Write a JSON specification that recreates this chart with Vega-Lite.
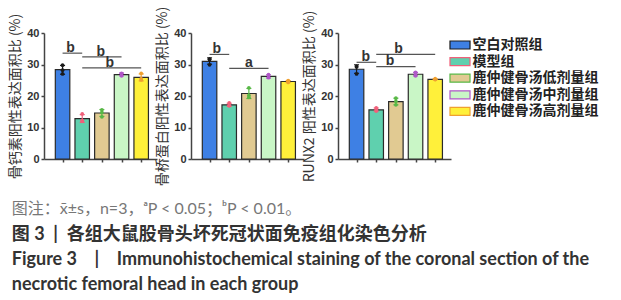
{
  "$schema": "https://vega.github.io/schema/vega-lite/v6.json",
  "background": "white",
  "padding": {"left": 8, "top": 6, "right": 4, "bottom": 4},
  "config": {
    "view": {"stroke": null},
    "axis": {"domainColor": "#444", "domainWidth": 1.5, "tickColor": "#444", "tickWidth": 1.5, "tickSize": 3, "labelFont": "Liberation Sans", "labelFontWeight": "bold", "labelFontSize": 11, "labelColor": "#333", "labelPadding": 2, "titleFont": "Noto Sans CJK SC", "titleFontSize": 14, "titleFontWeight": "normal", "titleColor": "#333", "titlePadding": 4, "grid": false}
  },
  "title": {
    "text": "图注：x̄±s，n=3，ᵃP < 0.05；ᵇP < 0.01。",
    "subtitle": ["图 3 \u00a0|\u00a0 各组大鼠股骨头坏死冠状面免疫组化染色分析", "Figure 3 \u00a0\u00a0 | \u00a0\u00a0 Immunohistochemical staining of the coronal section of the", "necrotic femoral head in each group"],
    "orient": "bottom", "anchor": "start", "frame": "bounds", "offset": 15, "dx": 3,
    "font": "Lato, 'Noto Sans CJK SC'", "fontSize": 16, "fontWeight": "normal", "color": "#777",
    "subtitleFont": "Lato, 'Noto Sans CJK SC'", "subtitleFontSize": 18, "subtitleFontWeight": "bold", "subtitleColor": "#333", "subtitleLineHeight": 25, "subtitlePadding": 9
  },
  "datasets": {
    "bars": [
      {"panel": 1, "i": 1, "group": "空白对照组", "mean": 28.35, "lo": 26.9, "hi": 29.7},
      {"panel": 1, "i": 2, "group": "模型组", "mean": 12.8, "lo": 11.6, "hi": 14.1},
      {"panel": 1, "i": 3, "group": "鹿仲健骨汤低剂量组", "mean": 14.6, "lo": 13.5, "hi": 15.7},
      {"panel": 1, "i": 4, "group": "鹿仲健骨汤中剂量组", "mean": 26.8, "lo": 26.4, "hi": 27.3},
      {"panel": 1, "i": 5, "group": "鹿仲健骨汤高剂量组", "mean": 25.9, "lo": 24.8, "hi": 27.0},
      {"panel": 2, "i": 1, "group": "空白对照组", "mean": 31.0, "lo": 30.1, "hi": 32.1},
      {"panel": 2, "i": 2, "group": "模型组", "mean": 17.2, "lo": 16.7, "hi": 17.7},
      {"panel": 2, "i": 3, "group": "鹿仲健骨汤低剂量组", "mean": 20.8, "lo": 19.2, "hi": 22.4},
      {"panel": 2, "i": 4, "group": "鹿仲健骨汤中剂量组", "mean": 26.2, "lo": 25.7, "hi": 26.7},
      {"panel": 2, "i": 5, "group": "鹿仲健骨汤高剂量组", "mean": 24.6, "lo": 24.3, "hi": 24.9},
      {"panel": 3, "i": 1, "group": "空白对照组", "mean": 28.5, "lo": 27.2, "hi": 29.9},
      {"panel": 3, "i": 2, "group": "模型组", "mean": 15.6, "lo": 15.2, "hi": 16.2},
      {"panel": 3, "i": 3, "group": "鹿仲健骨汤低剂量组", "mean": 18.2, "lo": 17.2, "hi": 19.3},
      {"panel": 3, "i": 4, "group": "鹿仲健骨汤中剂量组", "mean": 26.9, "lo": 26.4, "hi": 27.5},
      {"panel": 3, "i": 5, "group": "鹿仲健骨汤高剂量组", "mean": 25.3, "lo": 25.2, "hi": 25.5}
    ],
    "points": [
      {"panel": 1, "i": 1, "group": "空白对照组", "rep": 1, "value": 28.2},
      {"panel": 1, "i": 1, "group": "空白对照组", "rep": 2, "value": 29.8},
      {"panel": 1, "i": 1, "group": "空白对照组", "rep": 3, "value": 27.0},
      {"panel": 1, "i": 2, "group": "模型组", "rep": 1, "value": 12.2},
      {"panel": 1, "i": 2, "group": "模型组", "rep": 2, "value": 14.3},
      {"panel": 1, "i": 2, "group": "模型组", "rep": 3, "value": 12.0},
      {"panel": 1, "i": 3, "group": "鹿仲健骨汤低剂量组", "rep": 1, "value": 15.6},
      {"panel": 1, "i": 3, "group": "鹿仲健骨汤低剂量组", "rep": 2, "value": 14.8},
      {"panel": 1, "i": 3, "group": "鹿仲健骨汤低剂量组", "rep": 3, "value": 13.4},
      {"panel": 1, "i": 4, "group": "鹿仲健骨汤中剂量组", "rep": 1, "value": 27.0},
      {"panel": 1, "i": 4, "group": "鹿仲健骨汤中剂量组", "rep": 2, "value": 27.2},
      {"panel": 1, "i": 4, "group": "鹿仲健骨汤中剂量组", "rep": 3, "value": 26.4},
      {"panel": 1, "i": 5, "group": "鹿仲健骨汤高剂量组", "rep": 1, "value": 25.4},
      {"panel": 1, "i": 5, "group": "鹿仲健骨汤高剂量组", "rep": 2, "value": 27.2},
      {"panel": 1, "i": 5, "group": "鹿仲健骨汤高剂量组", "rep": 3, "value": 25.1},
      {"panel": 2, "i": 1, "group": "空白对照组", "rep": 1, "value": 31.6},
      {"panel": 2, "i": 1, "group": "空白对照组", "rep": 2, "value": 29.9},
      {"panel": 2, "i": 1, "group": "空白对照组", "rep": 3, "value": 31.7},
      {"panel": 2, "i": 2, "group": "模型组", "rep": 1, "value": 17.0},
      {"panel": 2, "i": 2, "group": "模型组", "rep": 2, "value": 17.8},
      {"panel": 2, "i": 2, "group": "模型组", "rep": 3, "value": 16.9},
      {"panel": 2, "i": 3, "group": "鹿仲健骨汤低剂量组", "rep": 1, "value": 20.2},
      {"panel": 2, "i": 3, "group": "鹿仲健骨汤低剂量组", "rep": 2, "value": 22.6},
      {"panel": 2, "i": 3, "group": "鹿仲健骨汤低剂量组", "rep": 3, "value": 19.6},
      {"panel": 2, "i": 4, "group": "鹿仲健骨汤中剂量组", "rep": 1, "value": 26.0},
      {"panel": 2, "i": 4, "group": "鹿仲健骨汤中剂量组", "rep": 2, "value": 26.8},
      {"panel": 2, "i": 4, "group": "鹿仲健骨汤中剂量组", "rep": 3, "value": 25.8},
      {"panel": 2, "i": 5, "group": "鹿仲健骨汤高剂量组", "rep": 1, "value": 24.7},
      {"panel": 2, "i": 5, "group": "鹿仲健骨汤高剂量组", "rep": 2, "value": 24.9},
      {"panel": 2, "i": 5, "group": "鹿仲健骨汤高剂量组", "rep": 3, "value": 24.3},
      {"panel": 3, "i": 1, "group": "空白对照组", "rep": 1, "value": 29.3},
      {"panel": 3, "i": 1, "group": "空白对照组", "rep": 2, "value": 27.0},
      {"panel": 3, "i": 1, "group": "空白对照组", "rep": 3, "value": 29.3},
      {"panel": 3, "i": 2, "group": "模型组", "rep": 1, "value": 15.6},
      {"panel": 3, "i": 2, "group": "模型组", "rep": 2, "value": 16.2},
      {"panel": 3, "i": 2, "group": "模型组", "rep": 3, "value": 15.2},
      {"panel": 3, "i": 3, "group": "鹿仲健骨汤低剂量组", "rep": 1, "value": 19.3},
      {"panel": 3, "i": 3, "group": "鹿仲健骨汤低剂量组", "rep": 2, "value": 18.3},
      {"panel": 3, "i": 3, "group": "鹿仲健骨汤低剂量组", "rep": 3, "value": 17.2},
      {"panel": 3, "i": 4, "group": "鹿仲健骨汤中剂量组", "rep": 1, "value": 27.0},
      {"panel": 3, "i": 4, "group": "鹿仲健骨汤中剂量组", "rep": 2, "value": 27.5},
      {"panel": 3, "i": 4, "group": "鹿仲健骨汤中剂量组", "rep": 3, "value": 26.4},
      {"panel": 3, "i": 5, "group": "鹿仲健骨汤高剂量组", "rep": 1, "value": 25.3},
      {"panel": 3, "i": 5, "group": "鹿仲健骨汤高剂量组", "rep": 2, "value": 25.5},
      {"panel": 3, "i": 5, "group": "鹿仲健骨汤高剂量组", "rep": 3, "value": 25.2}
    ],
    "sig": [
      {"panel": 1, "from": 1, "to": 2, "y": 33.6, "lx": 1.4, "ly": 35.3, "label": "b"},
      {"panel": 1, "from": 2, "to": 4, "y": 32.4, "lx": 2.95, "ly": 34.1, "label": "b"},
      {"panel": 1, "from": 2, "to": 5, "y": 28.9, "lx": 3.4, "ly": 30.6, "label": "b"},
      {"panel": 2, "from": 1, "to": 2, "y": 33.2, "lx": 1.37, "ly": 34.9, "label": "b"},
      {"panel": 2, "from": 2, "to": 4, "y": 28.75, "lx": 3.0, "ly": 30.4, "label": "a"},
      {"panel": 3, "from": 1, "to": 2, "y": 30.7, "lx": 1.47, "ly": 32.4, "label": "b"},
      {"panel": 3, "from": 2, "to": 5, "y": 33.2, "lx": 3.13, "ly": 34.9, "label": "b"},
      {"panel": 3, "from": 2, "to": 4, "y": 29.3, "lx": 2.7, "ly": 31.0, "label": "b"}
    ]
  },
  "hconcat": [
    {
      "width": 113, "height": 126,
      "layer": [
        {"data": {"name": "bars"}, "transform": [{"filter": "datum.panel === 1"}],
         "mark": {"type": "bar", "width": 14.5, "stroke": "#2a2a2a", "strokeWidth": 1.2},
         "encoding": {
           "x": {"field": "i", "type": "quantitative", "scale": {"domain": [0.31, 5.55], "nice": false, "zero": false}, "axis": {"values": [1, 2, 3, 4, 5], "labels": false, "title": null}},
           "y": {"field": "mean", "type": "quantitative", "scale": {"domain": [0, 40], "nice": false}, "axis": {"values": [0, 10, 20, 30, 40], "title": "骨钙素阳性表达面积比 (%)"}},
           "fill": {"field": "group", "type": "nominal", "scale": {"domain": ["空白对照组", "模型组", "鹿仲健骨汤低剂量组", "鹿仲健骨汤中剂量组", "鹿仲健骨汤高剂量组"], "range": ["#3E80E4", "#5FD0AE", "#E1CA92", "#C9F6C6", "#FFF03A"]}, "legend": null}
         }},
        {"data": {"name": "bars"}, "transform": [{"filter": "datum.panel === 1"}],
         "mark": {"type": "rule", "strokeWidth": 1.2},
         "encoding": {
           "x": {"field": "i", "type": "quantitative", "axis": {"values": [1, 2, 3, 4, 5], "labels": false, "title": null}},
           "y": {"field": "lo", "type": "quantitative", "axis": {"values": [0, 10, 20, 30, 40], "title": "骨钙素阳性表达面积比 (%)"}},
           "y2": {"field": "hi"},
           "color": {"field": "group", "type": "nominal", "scale": {"domain": ["空白对照组", "模型组", "鹿仲健骨汤低剂量组", "鹿仲健骨汤中剂量组", "鹿仲健骨汤高剂量组"], "range": ["#1a1a1a", "#F0607A", "#58B846", "#B057C8", "#F0A030"]}, "legend": null}
         }},
        {"data": {"name": "bars"}, "transform": [{"filter": "datum.panel === 1"}],
         "mark": {"type": "tick", "orient": "horizontal", "size": 5, "thickness": 1.2, "opacity": 1},
         "encoding": {
           "x": {"field": "i", "type": "quantitative", "axis": {"values": [1, 2, 3, 4, 5], "labels": false, "title": null}},
           "y": {"field": "hi", "type": "quantitative", "axis": {"values": [0, 10, 20, 30, 40], "title": "骨钙素阳性表达面积比 (%)"}},
           "color": {"field": "group", "type": "nominal", "legend": null}
         }},
        {"data": {"name": "bars"}, "transform": [{"filter": "datum.panel === 1"}],
         "mark": {"type": "tick", "orient": "horizontal", "size": 5, "thickness": 1.2, "opacity": 1},
         "encoding": {
           "x": {"field": "i", "type": "quantitative", "axis": {"values": [1, 2, 3, 4, 5], "labels": false, "title": null}},
           "y": {"field": "lo", "type": "quantitative", "axis": {"values": [0, 10, 20, 30, 40], "title": "骨钙素阳性表达面积比 (%)"}},
           "color": {"field": "group", "type": "nominal", "legend": null}
         }},
        {"data": {"name": "points"}, "transform": [{"filter": "datum.panel === 1"}],
         "mark": {"type": "circle", "size": 14, "opacity": 1},
         "encoding": {
           "x": {"field": "i", "type": "quantitative", "axis": {"values": [1, 2, 3, 4, 5], "labels": false, "title": null}},
           "xOffset": {"field": "rep", "type": "nominal", "scale": {"type": "point", "range": [-3.5, 3.5]}},
           "y": {"field": "value", "type": "quantitative", "axis": {"values": [0, 10, 20, 30, 40], "title": "骨钙素阳性表达面积比 (%)"}},
           "color": {"field": "group", "type": "nominal", "legend": null}
         }},
        {"data": {"name": "sig"}, "transform": [{"filter": "datum.panel === 1"}],
         "mark": {"type": "rule", "stroke": "#555", "strokeWidth": 1.2},
         "encoding": {"x": {"field": "from", "type": "quantitative", "axis": {"values": [1, 2, 3, 4, 5], "labels": false, "title": null}}, "x2": {"field": "to"}, "y": {"field": "y", "type": "quantitative", "axis": {"values": [0, 10, 20, 30, 40], "title": "骨钙素阳性表达面积比 (%)"}}}},
        {"data": {"name": "sig"}, "transform": [{"filter": "datum.panel === 1"}],
         "mark": {"type": "text", "font": "Liberation Sans", "fontWeight": "bold", "fontSize": 14, "color": "#333", "baseline": "middle"},
         "encoding": {"x": {"field": "lx", "type": "quantitative", "axis": {"values": [1, 2, 3, 4, 5], "labels": false, "title": null}}, "y": {"field": "ly", "type": "quantitative", "axis": {"values": [0, 10, 20, 30, 40], "title": "骨钙素阳性表达面积比 (%)"}}, "text": {"field": "label"}}}
      ]
    },
    {
      "width": 113, "height": 126,
      "layer": [
        {"data": {"name": "bars"}, "transform": [{"filter": "datum.panel === 2"}],
         "mark": {"type": "bar", "width": 14.5, "stroke": "#2a2a2a", "strokeWidth": 1.2},
         "encoding": {
           "x": {"field": "i", "type": "quantitative", "scale": {"domain": [0.31, 5.55], "nice": false, "zero": false}, "axis": {"values": [1, 2, 3, 4, 5], "labels": false, "title": null}},
           "y": {"field": "mean", "type": "quantitative", "scale": {"domain": [0, 40], "nice": false}, "axis": {"values": [0, 10, 20, 30, 40], "title": "骨桥蛋白阳性表达面积比 (%)"}},
           "fill": {"field": "group", "type": "nominal", "scale": {"domain": ["空白对照组", "模型组", "鹿仲健骨汤低剂量组", "鹿仲健骨汤中剂量组", "鹿仲健骨汤高剂量组"], "range": ["#3E80E4", "#5FD0AE", "#E1CA92", "#C9F6C6", "#FFF03A"]}, "legend": null}
         }},
        {"data": {"name": "bars"}, "transform": [{"filter": "datum.panel === 2"}],
         "mark": {"type": "rule", "strokeWidth": 1.2},
         "encoding": {
           "x": {"field": "i", "type": "quantitative", "axis": {"values": [1, 2, 3, 4, 5], "labels": false, "title": null}},
           "y": {"field": "lo", "type": "quantitative", "axis": {"values": [0, 10, 20, 30, 40], "title": "骨桥蛋白阳性表达面积比 (%)"}},
           "y2": {"field": "hi"},
           "color": {"field": "group", "type": "nominal", "scale": {"domain": ["空白对照组", "模型组", "鹿仲健骨汤低剂量组", "鹿仲健骨汤中剂量组", "鹿仲健骨汤高剂量组"], "range": ["#1a1a1a", "#F0607A", "#58B846", "#B057C8", "#F0A030"]}, "legend": null}
         }},
        {"data": {"name": "bars"}, "transform": [{"filter": "datum.panel === 2"}],
         "mark": {"type": "tick", "orient": "horizontal", "size": 5, "thickness": 1.2, "opacity": 1},
         "encoding": {
           "x": {"field": "i", "type": "quantitative", "axis": {"values": [1, 2, 3, 4, 5], "labels": false, "title": null}},
           "y": {"field": "hi", "type": "quantitative", "axis": {"values": [0, 10, 20, 30, 40], "title": "骨桥蛋白阳性表达面积比 (%)"}},
           "color": {"field": "group", "type": "nominal", "legend": null}
         }},
        {"data": {"name": "bars"}, "transform": [{"filter": "datum.panel === 2"}],
         "mark": {"type": "tick", "orient": "horizontal", "size": 5, "thickness": 1.2, "opacity": 1},
         "encoding": {
           "x": {"field": "i", "type": "quantitative", "axis": {"values": [1, 2, 3, 4, 5], "labels": false, "title": null}},
           "y": {"field": "lo", "type": "quantitative", "axis": {"values": [0, 10, 20, 30, 40], "title": "骨桥蛋白阳性表达面积比 (%)"}},
           "color": {"field": "group", "type": "nominal", "legend": null}
         }},
        {"data": {"name": "points"}, "transform": [{"filter": "datum.panel === 2"}],
         "mark": {"type": "circle", "size": 14, "opacity": 1},
         "encoding": {
           "x": {"field": "i", "type": "quantitative", "axis": {"values": [1, 2, 3, 4, 5], "labels": false, "title": null}},
           "xOffset": {"field": "rep", "type": "nominal", "scale": {"type": "point", "range": [-3.5, 3.5]}},
           "y": {"field": "value", "type": "quantitative", "axis": {"values": [0, 10, 20, 30, 40], "title": "骨桥蛋白阳性表达面积比 (%)"}},
           "color": {"field": "group", "type": "nominal", "legend": null}
         }},
        {"data": {"name": "sig"}, "transform": [{"filter": "datum.panel === 2"}],
         "mark": {"type": "rule", "stroke": "#555", "strokeWidth": 1.2},
         "encoding": {"x": {"field": "from", "type": "quantitative", "axis": {"values": [1, 2, 3, 4, 5], "labels": false, "title": null}}, "x2": {"field": "to"}, "y": {"field": "y", "type": "quantitative", "axis": {"values": [0, 10, 20, 30, 40], "title": "骨桥蛋白阳性表达面积比 (%)"}}}},
        {"data": {"name": "sig"}, "transform": [{"filter": "datum.panel === 2"}],
         "mark": {"type": "text", "font": "Liberation Sans", "fontWeight": "bold", "fontSize": 14, "color": "#333", "baseline": "middle"},
         "encoding": {"x": {"field": "lx", "type": "quantitative", "axis": {"values": [1, 2, 3, 4, 5], "labels": false, "title": null}}, "y": {"field": "ly", "type": "quantitative", "axis": {"values": [0, 10, 20, 30, 40], "title": "骨桥蛋白阳性表达面积比 (%)"}}, "text": {"field": "label"}}}
      ]
    },
    {
      "width": 113, "height": 126,
      "layer": [
        {"data": {"name": "bars"}, "transform": [{"filter": "datum.panel === 3"}],
         "mark": {"type": "bar", "width": 14.5, "stroke": "#2a2a2a", "strokeWidth": 1.2},
         "encoding": {
           "x": {"field": "i", "type": "quantitative", "scale": {"domain": [0.31, 5.55], "nice": false, "zero": false}, "axis": {"values": [1, 2, 3, 4, 5], "labels": false, "title": null}},
           "y": {"field": "mean", "type": "quantitative", "scale": {"domain": [0, 40], "nice": false}, "axis": {"values": [0, 10, 20, 30, 40], "title": "RUNX2 阳性表达面积比 (%)"}},
           "fill": {"field": "group", "type": "nominal", "scale": {"domain": ["空白对照组", "模型组", "鹿仲健骨汤低剂量组", "鹿仲健骨汤中剂量组", "鹿仲健骨汤高剂量组"], "range": ["#3E80E4", "#5FD0AE", "#E1CA92", "#C9F6C6", "#FFF03A"]},
             "legend": {"title": null, "orient": "right", "offset": -3, "padding": 4, "symbolType": "M-1.43,-0.57H1.43V0.57H-1.43Z", "symbolSize": 196, "symbolStrokeColor": "#222", "symbolStrokeWidth": 1.2, "labelFont": "Noto Sans CJK SC", "labelFontSize": 14, "labelFontWeight": "bold", "labelColor": "#222", "rowPadding": 1.6, "labelOffset": 4.5}}
         }},
        {"data": {"name": "bars"}, "transform": [{"filter": "datum.panel === 3"}],
         "mark": {"type": "rule", "strokeWidth": 1.2},
         "encoding": {
           "x": {"field": "i", "type": "quantitative", "axis": {"values": [1, 2, 3, 4, 5], "labels": false, "title": null}},
           "y": {"field": "lo", "type": "quantitative", "axis": {"values": [0, 10, 20, 30, 40], "title": "RUNX2 阳性表达面积比 (%)"}},
           "y2": {"field": "hi"},
           "color": {"field": "group", "type": "nominal", "scale": {"domain": ["空白对照组", "模型组", "鹿仲健骨汤低剂量组", "鹿仲健骨汤中剂量组", "鹿仲健骨汤高剂量组"], "range": ["#1a1a1a", "#F0607A", "#58B846", "#B057C8", "#F0A030"]}, "legend": null}
         }},
        {"data": {"name": "bars"}, "transform": [{"filter": "datum.panel === 3"}],
         "mark": {"type": "tick", "orient": "horizontal", "size": 5, "thickness": 1.2, "opacity": 1},
         "encoding": {
           "x": {"field": "i", "type": "quantitative", "axis": {"values": [1, 2, 3, 4, 5], "labels": false, "title": null}},
           "y": {"field": "hi", "type": "quantitative", "axis": {"values": [0, 10, 20, 30, 40], "title": "RUNX2 阳性表达面积比 (%)"}},
           "color": {"field": "group", "type": "nominal", "legend": null}
         }},
        {"data": {"name": "bars"}, "transform": [{"filter": "datum.panel === 3"}],
         "mark": {"type": "tick", "orient": "horizontal", "size": 5, "thickness": 1.2, "opacity": 1},
         "encoding": {
           "x": {"field": "i", "type": "quantitative", "axis": {"values": [1, 2, 3, 4, 5], "labels": false, "title": null}},
           "y": {"field": "lo", "type": "quantitative", "axis": {"values": [0, 10, 20, 30, 40], "title": "RUNX2 阳性表达面积比 (%)"}},
           "color": {"field": "group", "type": "nominal", "legend": null}
         }},
        {"data": {"name": "points"}, "transform": [{"filter": "datum.panel === 3"}],
         "mark": {"type": "circle", "size": 14, "opacity": 1},
         "encoding": {
           "x": {"field": "i", "type": "quantitative", "axis": {"values": [1, 2, 3, 4, 5], "labels": false, "title": null}},
           "xOffset": {"field": "rep", "type": "nominal", "scale": {"type": "point", "range": [-3.5, 3.5]}},
           "y": {"field": "value", "type": "quantitative", "axis": {"values": [0, 10, 20, 30, 40], "title": "RUNX2 阳性表达面积比 (%)"}},
           "color": {"field": "group", "type": "nominal", "legend": null}
         }},
        {"data": {"name": "sig"}, "transform": [{"filter": "datum.panel === 3"}],
         "mark": {"type": "rule", "stroke": "#555", "strokeWidth": 1.2},
         "encoding": {"x": {"field": "from", "type": "quantitative", "axis": {"values": [1, 2, 3, 4, 5], "labels": false, "title": null}}, "x2": {"field": "to"}, "y": {"field": "y", "type": "quantitative", "axis": {"values": [0, 10, 20, 30, 40], "title": "RUNX2 阳性表达面积比 (%)"}}}},
        {"data": {"name": "sig"}, "transform": [{"filter": "datum.panel === 3"}],
         "mark": {"type": "text", "font": "Liberation Sans", "fontWeight": "bold", "fontSize": 14, "color": "#333", "baseline": "middle"},
         "encoding": {"x": {"field": "lx", "type": "quantitative", "axis": {"values": [1, 2, 3, 4, 5], "labels": false, "title": null}}, "y": {"field": "ly", "type": "quantitative", "axis": {"values": [0, 10, 20, 30, 40], "title": "RUNX2 阳性表达面积比 (%)"}}, "text": {"field": "label"}}}
      ]
    }
  ],
  "spacing": 34,
  "bounds": "flush",
  "resolve": {"scale": {"fill": "independent", "color": "independent", "x": "independent", "y": "independent"}, "legend": {"fill": "independent"}}
}
